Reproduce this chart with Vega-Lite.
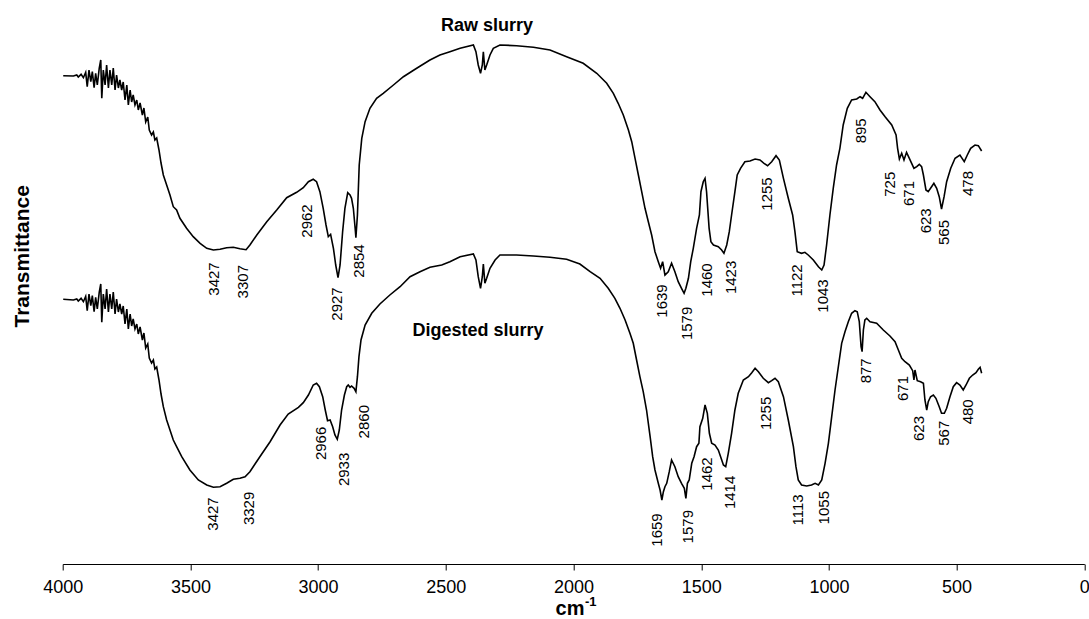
{
  "$schema": "https://vega.github.io/schema/vega-lite/v6.json",
  "width": 1021.6,
  "height": 544,
  "autosize": {"type": "none"},
  "padding": {"left": 62.7, "top": 20, "right": 4.7, "bottom": 55},
  "background": "white",
  "config": {"font": "Liberation Sans", "view": {"stroke": null}},
  "datasets": {
    "spectra": [
      {"s":"raw","wn":3998,"t":488.3},{"s":"raw","wn":3958,"t":488},{"s":"raw","wn":3945,"t":489},{"s":"raw","wn":3939,"t":487},{"s":"raw","wn":3928,"t":489.7},{"s":"raw","wn":3919,"t":486.3},{"s":"raw","wn":3910,"t":491.7},{"s":"raw","wn":3904,"t":477.3},{"s":"raw","wn":3897,"t":494},{"s":"raw","wn":3890,"t":482.3},{"s":"raw","wn":3884,"t":492.3},{"s":"raw","wn":3877,"t":476.3},{"s":"raw","wn":3871,"t":490.7},{"s":"raw","wn":3864.5,"t":479},{"s":"raw","wn":3857,"t":495.7},{"s":"raw","wn":3851,"t":504},{"s":"raw","wn":3847,"t":465.7},{"s":"raw","wn":3841,"t":494},{"s":"raw","wn":3834,"t":479},{"s":"raw","wn":3828,"t":499},{"s":"raw","wn":3821,"t":476},{"s":"raw","wn":3815,"t":494},{"s":"raw","wn":3808,"t":479},{"s":"raw","wn":3802,"t":496},{"s":"raw","wn":3795,"t":474},{"s":"raw","wn":3789,"t":489},{"s":"raw","wn":3782,"t":476},{"s":"raw","wn":3776,"t":484},{"s":"raw","wn":3769,"t":474},{"s":"raw","wn":3763,"t":482},{"s":"raw","wn":3756,"t":464},{"s":"raw","wn":3749,"t":479},{"s":"raw","wn":3743,"t":459},{"s":"raw","wn":3736,"t":474},{"s":"raw","wn":3730,"t":462},{"s":"raw","wn":3724,"t":469},{"s":"raw","wn":3717,"t":459},{"s":"raw","wn":3710,"t":464},{"s":"raw","wn":3704,"t":454},{"s":"raw","wn":3697,"t":461},{"s":"raw","wn":3688,"t":449},{"s":"raw","wn":3682,"t":456},{"s":"raw","wn":3675,"t":442},{"s":"raw","wn":3667,"t":447},{"s":"raw","wn":3661,"t":434},{"s":"raw","wn":3652,"t":429},{"s":"raw","wn":3645,"t":432},{"s":"raw","wn":3639,"t":424},{"s":"raw","wn":3632,"t":426},{"s":"raw","wn":3623,"t":414},{"s":"raw","wn":3615,"t":401},{"s":"raw","wn":3606,"t":389},{"s":"raw","wn":3593,"t":379},{"s":"raw","wn":3580,"t":369},{"s":"raw","wn":3567,"t":357.3},{"s":"raw","wn":3554,"t":354},{"s":"raw","wn":3541,"t":345.7},{"s":"raw","wn":3515,"t":335.7},{"s":"raw","wn":3489,"t":327.3},{"s":"raw","wn":3462,"t":320.7},{"s":"raw","wn":3436,"t":315.7},{"s":"raw","wn":3410,"t":314},{"s":"raw","wn":3384,"t":314.7},{"s":"raw","wn":3358,"t":316.3},{"s":"raw","wn":3332,"t":316.7},{"s":"raw","wn":3306,"t":315.3},{"s":"raw","wn":3282,"t":314.3},{"s":"raw","wn":3267,"t":319},{"s":"raw","wn":3240,"t":329},{"s":"raw","wn":3201,"t":342.3},{"s":"raw","wn":3162,"t":354},{"s":"raw","wn":3123,"t":366.3},{"s":"raw","wn":3084,"t":371.7},{"s":"raw","wn":3058,"t":376.3},{"s":"raw","wn":3038,"t":382.3},{"s":"raw","wn":3019,"t":384.7},{"s":"raw","wn":3006,"t":382.3},{"s":"raw","wn":2993,"t":372.3},{"s":"raw","wn":2980,"t":355.7},{"s":"raw","wn":2969,"t":339},{"s":"raw","wn":2960,"t":327.3},{"s":"raw","wn":2951,"t":329.7},{"s":"raw","wn":2940,"t":315.7},{"s":"raw","wn":2931,"t":299},{"s":"raw","wn":2922,"t":286.3},{"s":"raw","wn":2914,"t":299},{"s":"raw","wn":2904,"t":332.3},{"s":"raw","wn":2895,"t":355.7},{"s":"raw","wn":2884,"t":371.3},{"s":"raw","wn":2875,"t":369},{"s":"raw","wn":2869,"t":365.7},{"s":"raw","wn":2862,"t":355.7},{"s":"raw","wn":2855,"t":335.7},{"s":"raw","wn":2852,"t":326.3},{"s":"raw","wn":2846,"t":349},{"s":"raw","wn":2839,"t":399},{"s":"raw","wn":2829,"t":425.7},{"s":"raw","wn":2816,"t":442.3},{"s":"raw","wn":2797,"t":455.7},{"s":"raw","wn":2771,"t":465.7},{"s":"raw","wn":2745,"t":470.7},{"s":"raw","wn":2705,"t":479},{"s":"raw","wn":2666,"t":487.3},{"s":"raw","wn":2614,"t":495.7},{"s":"raw","wn":2562,"t":504},{"s":"raw","wn":2523,"t":509},{"s":"raw","wn":2484,"t":512.3},{"s":"raw","wn":2444,"t":515.7},{"s":"raw","wn":2392,"t":519},{"s":"raw","wn":2382,"t":512.3},{"s":"raw","wn":2373,"t":499},{"s":"raw","wn":2364,"t":490.7},{"s":"raw","wn":2357,"t":499},{"s":"raw","wn":2353,"t":512.3},{"s":"raw","wn":2347,"t":494},{"s":"raw","wn":2340,"t":499},{"s":"raw","wn":2327,"t":509},{"s":"raw","wn":2314,"t":515.7},{"s":"raw","wn":2288,"t":519},{"s":"raw","wn":2223,"t":518.3},{"s":"raw","wn":2157,"t":516.7},{"s":"raw","wn":2092,"t":514},{"s":"raw","wn":2027,"t":507.3},{"s":"raw","wn":1962,"t":500.7},{"s":"raw","wn":1909,"t":490.7},{"s":"raw","wn":1870,"t":480.7},{"s":"raw","wn":1844,"t":470.7},{"s":"raw","wn":1825,"t":460.7},{"s":"raw","wn":1805,"t":449},{"s":"raw","wn":1785,"t":434},{"s":"raw","wn":1772,"t":422.3},{"s":"raw","wn":1759,"t":405.7},{"s":"raw","wn":1746,"t":389},{"s":"raw","wn":1733,"t":372.3},{"s":"raw","wn":1720,"t":355.7},{"s":"raw","wn":1707,"t":342.3},{"s":"raw","wn":1694,"t":329},{"s":"raw","wn":1681,"t":312.3},{"s":"raw","wn":1668,"t":302.3},{"s":"raw","wn":1659,"t":295.7},{"s":"raw","wn":1651,"t":302.3},{"s":"raw","wn":1642,"t":289},{"s":"raw","wn":1629,"t":292.3},{"s":"raw","wn":1616,"t":300.7},{"s":"raw","wn":1603,"t":292.3},{"s":"raw","wn":1590,"t":282.3},{"s":"raw","wn":1577,"t":275.7},{"s":"raw","wn":1567,"t":270.7},{"s":"raw","wn":1560,"t":275.7},{"s":"raw","wn":1550,"t":285.7},{"s":"raw","wn":1541,"t":302.3},{"s":"raw","wn":1531,"t":315.7},{"s":"raw","wn":1518,"t":335.7},{"s":"raw","wn":1507,"t":349},{"s":"raw","wn":1501,"t":372.3},{"s":"raw","wn":1492,"t":382.3},{"s":"raw","wn":1485,"t":385.7},{"s":"raw","wn":1479,"t":372.3},{"s":"raw","wn":1469,"t":335.7},{"s":"raw","wn":1462,"t":322.3},{"s":"raw","wn":1452,"t":319},{"s":"raw","wn":1433,"t":317.3},{"s":"raw","wn":1420,"t":314},{"s":"raw","wn":1411,"t":310.7},{"s":"raw","wn":1400,"t":319},{"s":"raw","wn":1390,"t":332.3},{"s":"raw","wn":1381,"t":349},{"s":"raw","wn":1368,"t":372.3},{"s":"raw","wn":1359,"t":389},{"s":"raw","wn":1346,"t":395.7},{"s":"raw","wn":1329,"t":402.3},{"s":"raw","wn":1309,"t":403},{"s":"raw","wn":1289,"t":405},{"s":"raw","wn":1270,"t":404},{"s":"raw","wn":1254,"t":400.7},{"s":"raw","wn":1240,"t":398.3},{"s":"raw","wn":1224,"t":402.3},{"s":"raw","wn":1207,"t":408.3},{"s":"raw","wn":1194,"t":404},{"s":"raw","wn":1178,"t":385.7},{"s":"raw","wn":1159,"t":365.7},{"s":"raw","wn":1142,"t":349},{"s":"raw","wn":1133,"t":332.3},{"s":"raw","wn":1124,"t":312.3},{"s":"raw","wn":1107,"t":310.7},{"s":"raw","wn":1094,"t":311.7},{"s":"raw","wn":1081,"t":309},{"s":"raw","wn":1061,"t":304},{"s":"raw","wn":1041,"t":297.3},{"s":"raw","wn":1028,"t":294},{"s":"raw","wn":1019,"t":299},{"s":"raw","wn":1009,"t":319},{"s":"raw","wn":996,"t":349},{"s":"raw","wn":983,"t":375.7},{"s":"raw","wn":970,"t":399},{"s":"raw","wn":957,"t":415.7},{"s":"raw","wn":944,"t":439},{"s":"raw","wn":928,"t":455.7},{"s":"raw","wn":911,"t":464},{"s":"raw","wn":891,"t":465},{"s":"raw","wn":878,"t":467.3},{"s":"raw","wn":868,"t":465.7},{"s":"raw","wn":855,"t":471.7},{"s":"raw","wn":839,"t":467.3},{"s":"raw","wn":820,"t":462.3},{"s":"raw","wn":800,"t":454},{"s":"raw","wn":780,"t":447.3},{"s":"raw","wn":754,"t":439},{"s":"raw","wn":737,"t":429},{"s":"raw","wn":731,"t":415.7},{"s":"raw","wn":724,"t":405},{"s":"raw","wn":715,"t":410.7},{"s":"raw","wn":706,"t":404},{"s":"raw","wn":696,"t":411.7},{"s":"raw","wn":685,"t":405.7},{"s":"raw","wn":676,"t":400.7},{"s":"raw","wn":667,"t":395.7},{"s":"raw","wn":656,"t":397.3},{"s":"raw","wn":646,"t":399.7},{"s":"raw","wn":637,"t":397.3},{"s":"raw","wn":630,"t":389},{"s":"raw","wn":620,"t":374},{"s":"raw","wn":611,"t":372.3},{"s":"raw","wn":598,"t":377.3},{"s":"raw","wn":589,"t":380.7},{"s":"raw","wn":578,"t":375.7},{"s":"raw","wn":568,"t":367.3},{"s":"raw","wn":559,"t":355},{"s":"raw","wn":549,"t":367.3},{"s":"raw","wn":539,"t":382.3},{"s":"raw","wn":523,"t":395.7},{"s":"raw","wn":506,"t":405.7},{"s":"raw","wn":487,"t":409},{"s":"raw","wn":470,"t":402.3},{"s":"raw","wn":458,"t":409},{"s":"raw","wn":445,"t":415.7},{"s":"raw","wn":428,"t":419},{"s":"raw","wn":415,"t":418.3},{"s":"raw","wn":402,"t":413},
      {"s":"dig","wn":3998,"t":264.7},{"s":"dig","wn":3958,"t":264},{"s":"dig","wn":3945,"t":265},{"s":"dig","wn":3939,"t":263},{"s":"dig","wn":3928,"t":265.7},{"s":"dig","wn":3919,"t":262.3},{"s":"dig","wn":3910,"t":267.7},{"s":"dig","wn":3904,"t":253.3},{"s":"dig","wn":3897,"t":270},{"s":"dig","wn":3890,"t":258.3},{"s":"dig","wn":3884,"t":268.3},{"s":"dig","wn":3877,"t":252.3},{"s":"dig","wn":3871,"t":266.7},{"s":"dig","wn":3864.5,"t":255},{"s":"dig","wn":3857,"t":271.7},{"s":"dig","wn":3851,"t":280},{"s":"dig","wn":3847,"t":241.7},{"s":"dig","wn":3841,"t":270},{"s":"dig","wn":3834,"t":255},{"s":"dig","wn":3828,"t":275},{"s":"dig","wn":3821,"t":252},{"s":"dig","wn":3815,"t":270},{"s":"dig","wn":3808,"t":255},{"s":"dig","wn":3802,"t":272},{"s":"dig","wn":3795,"t":250},{"s":"dig","wn":3789,"t":265},{"s":"dig","wn":3782,"t":252},{"s":"dig","wn":3776,"t":260},{"s":"dig","wn":3769,"t":250},{"s":"dig","wn":3763,"t":258},{"s":"dig","wn":3756,"t":240},{"s":"dig","wn":3749,"t":255},{"s":"dig","wn":3743,"t":235},{"s":"dig","wn":3736,"t":250},{"s":"dig","wn":3730,"t":238},{"s":"dig","wn":3724,"t":245},{"s":"dig","wn":3717,"t":235},{"s":"dig","wn":3710,"t":240},{"s":"dig","wn":3704,"t":230},{"s":"dig","wn":3697,"t":237},{"s":"dig","wn":3688,"t":224},{"s":"dig","wn":3682,"t":231},{"s":"dig","wn":3675,"t":216},{"s":"dig","wn":3667,"t":220},{"s":"dig","wn":3661,"t":206},{"s":"dig","wn":3652,"t":201},{"s":"dig","wn":3645,"t":204},{"s":"dig","wn":3639,"t":195},{"s":"dig","wn":3632,"t":197},{"s":"dig","wn":3623,"t":184},{"s":"dig","wn":3615,"t":170},{"s":"dig","wn":3606,"t":157.3},{"s":"dig","wn":3593,"t":144},{"s":"dig","wn":3580,"t":134},{"s":"dig","wn":3567,"t":124},{"s":"dig","wn":3554,"t":117.3},{"s":"dig","wn":3534,"t":107.3},{"s":"dig","wn":3502,"t":94},{"s":"dig","wn":3469,"t":84},{"s":"dig","wn":3436,"t":79},{"s":"dig","wn":3410,"t":76.7},{"s":"dig","wn":3384,"t":77.3},{"s":"dig","wn":3358,"t":80.7},{"s":"dig","wn":3332,"t":84.7},{"s":"dig","wn":3306,"t":85.7},{"s":"dig","wn":3286,"t":87.3},{"s":"dig","wn":3267,"t":92.3},{"s":"dig","wn":3228,"t":107.3},{"s":"dig","wn":3188,"t":122.3},{"s":"dig","wn":3149,"t":139},{"s":"dig","wn":3117,"t":150},{"s":"dig","wn":3077,"t":156.7},{"s":"dig","wn":3058,"t":161.3},{"s":"dig","wn":3038,"t":169},{"s":"dig","wn":3019,"t":179},{"s":"dig","wn":3006,"t":180.7},{"s":"dig","wn":2995,"t":177.3},{"s":"dig","wn":2982,"t":167.3},{"s":"dig","wn":2972,"t":154},{"s":"dig","wn":2963,"t":143.3},{"s":"dig","wn":2953,"t":144},{"s":"dig","wn":2943,"t":137.3},{"s":"dig","wn":2934,"t":129},{"s":"dig","wn":2925,"t":124.7},{"s":"dig","wn":2917,"t":134},{"s":"dig","wn":2908,"t":154},{"s":"dig","wn":2897,"t":169},{"s":"dig","wn":2888,"t":177.3},{"s":"dig","wn":2882,"t":179},{"s":"dig","wn":2875,"t":176.7},{"s":"dig","wn":2869,"t":178},{"s":"dig","wn":2859,"t":175.7},{"s":"dig","wn":2852,"t":172.3},{"s":"dig","wn":2846,"t":187.3},{"s":"dig","wn":2840,"t":207.3},{"s":"dig","wn":2832,"t":224},{"s":"dig","wn":2816,"t":239},{"s":"dig","wn":2790,"t":250.7},{"s":"dig","wn":2758,"t":260},{"s":"dig","wn":2719,"t":269},{"s":"dig","wn":2679,"t":277.3},{"s":"dig","wn":2640,"t":287.3},{"s":"dig","wn":2601,"t":292.3},{"s":"dig","wn":2562,"t":296.7},{"s":"dig","wn":2516,"t":299},{"s":"dig","wn":2484,"t":302.3},{"s":"dig","wn":2444,"t":307.3},{"s":"dig","wn":2392,"t":310},{"s":"dig","wn":2382,"t":304},{"s":"dig","wn":2373,"t":287.3},{"s":"dig","wn":2364,"t":275.7},{"s":"dig","wn":2357,"t":287.3},{"s":"dig","wn":2353,"t":300},{"s":"dig","wn":2347,"t":280.7},{"s":"dig","wn":2340,"t":285.7},{"s":"dig","wn":2327,"t":295.7},{"s":"dig","wn":2307,"t":304},{"s":"dig","wn":2288,"t":309},{"s":"dig","wn":2223,"t":309},{"s":"dig","wn":2157,"t":308},{"s":"dig","wn":2092,"t":306.7},{"s":"dig","wn":2027,"t":304.7},{"s":"dig","wn":1975,"t":300},{"s":"dig","wn":1935,"t":292.3},{"s":"dig","wn":1896,"t":285.7},{"s":"dig","wn":1864,"t":275.7},{"s":"dig","wn":1838,"t":265.7},{"s":"dig","wn":1818,"t":255.7},{"s":"dig","wn":1798,"t":244},{"s":"dig","wn":1779,"t":230.7},{"s":"dig","wn":1766,"t":220.7},{"s":"dig","wn":1753,"t":204},{"s":"dig","wn":1740,"t":187.3},{"s":"dig","wn":1727,"t":172.3},{"s":"dig","wn":1714,"t":154},{"s":"dig","wn":1700,"t":127.3},{"s":"dig","wn":1690,"t":107.3},{"s":"dig","wn":1681,"t":94},{"s":"dig","wn":1668,"t":80.7},{"s":"dig","wn":1661,"t":74},{"s":"dig","wn":1654,"t":64},{"s":"dig","wn":1648,"t":72.3},{"s":"dig","wn":1642,"t":77.3},{"s":"dig","wn":1635,"t":80.7},{"s":"dig","wn":1625,"t":92.3},{"s":"dig","wn":1616,"t":104},{"s":"dig","wn":1603,"t":97.3},{"s":"dig","wn":1590,"t":87.3},{"s":"dig","wn":1577,"t":80.7},{"s":"dig","wn":1566,"t":75.7},{"s":"dig","wn":1560,"t":65.7},{"s":"dig","wn":1554,"t":80.7},{"s":"dig","wn":1547,"t":84},{"s":"dig","wn":1537,"t":100.7},{"s":"dig","wn":1528,"t":107.3},{"s":"dig","wn":1518,"t":117.3},{"s":"dig","wn":1509,"t":120.7},{"s":"dig","wn":1505,"t":137.3},{"s":"dig","wn":1494,"t":145.7},{"s":"dig","wn":1485,"t":159},{"s":"dig","wn":1476,"t":150.7},{"s":"dig","wn":1468,"t":130.7},{"s":"dig","wn":1459,"t":120.7},{"s":"dig","wn":1446,"t":119},{"s":"dig","wn":1433,"t":114},{"s":"dig","wn":1424,"t":107.3},{"s":"dig","wn":1413,"t":99},{"s":"dig","wn":1404,"t":97.3},{"s":"dig","wn":1394,"t":110.7},{"s":"dig","wn":1381,"t":130.7},{"s":"dig","wn":1368,"t":154},{"s":"dig","wn":1355,"t":170.7},{"s":"dig","wn":1335,"t":184},{"s":"dig","wn":1315,"t":187.3},{"s":"dig","wn":1302,"t":191.3},{"s":"dig","wn":1289,"t":195.7},{"s":"dig","wn":1276,"t":192.3},{"s":"dig","wn":1257,"t":185.7},{"s":"dig","wn":1237,"t":181.3},{"s":"dig","wn":1224,"t":183.3},{"s":"dig","wn":1211,"t":185.7},{"s":"dig","wn":1198,"t":182.3},{"s":"dig","wn":1178,"t":167.3},{"s":"dig","wn":1159,"t":144},{"s":"dig","wn":1139,"t":117.3},{"s":"dig","wn":1129,"t":97.3},{"s":"dig","wn":1120,"t":84},{"s":"dig","wn":1107,"t":79},{"s":"dig","wn":1087,"t":78},{"s":"dig","wn":1068,"t":79},{"s":"dig","wn":1054,"t":80.7},{"s":"dig","wn":1041,"t":79},{"s":"dig","wn":1028,"t":84},{"s":"dig","wn":1015,"t":100.7},{"s":"dig","wn":1002,"t":120.7},{"s":"dig","wn":989,"t":147.3},{"s":"dig","wn":976,"t":174},{"s":"dig","wn":963,"t":197.3},{"s":"dig","wn":950,"t":220.7},{"s":"dig","wn":937,"t":232.3},{"s":"dig","wn":924,"t":242.3},{"s":"dig","wn":911,"t":250.7},{"s":"dig","wn":898,"t":253.3},{"s":"dig","wn":889,"t":252.3},{"s":"dig","wn":881,"t":242.3},{"s":"dig","wn":874,"t":217.3},{"s":"dig","wn":870,"t":212.3},{"s":"dig","wn":865,"t":234},{"s":"dig","wn":859,"t":244},{"s":"dig","wn":852,"t":245.7},{"s":"dig","wn":839,"t":242.3},{"s":"dig","wn":813,"t":240.7},{"s":"dig","wn":787,"t":234},{"s":"dig","wn":761,"t":228},{"s":"dig","wn":741,"t":222.3},{"s":"dig","wn":728,"t":214},{"s":"dig","wn":715,"t":205.7},{"s":"dig","wn":702,"t":202.3},{"s":"dig","wn":685,"t":199},{"s":"dig","wn":672,"t":193.3},{"s":"dig","wn":667,"t":184},{"s":"dig","wn":663,"t":194},{"s":"dig","wn":654,"t":183.3},{"s":"dig","wn":641,"t":182.3},{"s":"dig","wn":630,"t":180.7},{"s":"dig","wn":624,"t":164},{"s":"dig","wn":617,"t":154},{"s":"dig","wn":611,"t":162.3},{"s":"dig","wn":602,"t":167.3},{"s":"dig","wn":591,"t":169},{"s":"dig","wn":581,"t":165.7},{"s":"dig","wn":568,"t":157.3},{"s":"dig","wn":559,"t":150.7},{"s":"dig","wn":548,"t":150.7},{"s":"dig","wn":539,"t":155.7},{"s":"dig","wn":526,"t":167.3},{"s":"dig","wn":513,"t":177.3},{"s":"dig","wn":500,"t":181.3},{"s":"dig","wn":487,"t":179},{"s":"dig","wn":474,"t":174},{"s":"dig","wn":463,"t":179},{"s":"dig","wn":450,"t":185.7},{"s":"dig","wn":437,"t":189},{"s":"dig","wn":424,"t":191.3},{"s":"dig","wn":415,"t":194.7},{"s":"dig","wn":408,"t":196.7},{"s":"dig","wn":402,"t":190.7}
    ],
    "peaks": [
      {"label":"3427","wn":3408,"t":301.7},{"label":"3307","wn":3293,"t":299},{"label":"2962","wn":3045,"t":359.7},{"label":"2927","wn":2925,"t":276.7},{"label":"2854","wn":2839,"t":319.7},
      {"label":"1639","wn":1655,"t":279.7},{"label":"1579","wn":1557,"t":257.3},{"label":"1460","wn":1476,"t":300.7},{"label":"1423","wn":1385,"t":303.3},{"label":"1255","wn":1243,"t":386.7},{"label":"1122","wn":1126,"t":299.7},{"label":"1043","wn":1024,"t":284.7},{"label":"895","wn":874,"t":445.7},{"label":"725","wn":761,"t":392.3},{"label":"671","wn":685,"t":383},{"label":"623","wn":620,"t":355.7},{"label":"565","wn":548,"t":344},{"label":"478","wn":454,"t":393},
      {"label":"3427","wn":3410,"t":66.7},{"label":"3329","wn":3269,"t":72.3},{"label":"2966","wn":2990,"t":137.3},{"label":"2933","wn":2899,"t":111.3},{"label":"2860","wn":2820,"t":159},
      {"label":"1659","wn":1672,"t":50.7},{"label":"1579","wn":1553,"t":54},{"label":"1462","wn":1476,"t":106.7},{"label":"1414","wn":1387,"t":88.3},{"label":"1255","wn":1248,"t":167.3},{"label":"1113","wn":1120,"t":69.7},{"label":"1055","wn":1018,"t":73},{"label":"877","wn":856,"t":205.7},{"label":"671","wn":709,"t":188},{"label":"623","wn":646,"t":148},{"label":"567","wn":548,"t":143.3},{"label":"480","wn":454,"t":164.7}
    ],
    "names": [
      {"label":"Raw slurry","wn":2339,"t":533},
      {"label":"Digested slurry","wn":2374,"t":228}
    ],
    "unit": [
      {"label":"-1","wn":1955,"t":-41.5}
    ]
  },
  "layer": [
    {
      "data": {"name": "spectra"},
      "mark": {"type": "line", "color": "black", "strokeWidth": 1.6},
      "encoding": {
        "x": {
          "field": "wn", "type": "quantitative",
          "scale": {"domain": [0, 4000], "reverse": true, "nice": false},
          "axis": {
            "values": [0, 500, 1000, 1500, 2000, 2500, 3000, 3500, 4000],
            "format": "d", "grid": false,
            "domainColor": "black", "tickColor": "black", "tickSize": 6,
            "labelFontSize": 18, "labelColor": "black", "labelPadding": 8,
            "labelFlush": false, "labelOverlap": false,
            "title": "cm", "titleFontSize": 20, "titleFontWeight": "bold",
            "titleColor": "black", "titleAlign": "center", "titleBaseline": "alphabetic",
            "titleX": 506.8, "titleY": 50.5
          }
        },
        "y": {
          "field": "t", "type": "quantitative",
          "scale": {"domain": [0, 544], "nice": false, "zero": false},
          "axis": {
            "domain": false, "ticks": false, "labels": false, "grid": false,
            "title": "Transmittance", "titleFontSize": 21, "titleFontWeight": "bold",
            "titleColor": "black", "titleAngle": 270, "titleAlign": "center",
            "titleBaseline": "alphabetic", "titleX": -34.4, "titleY": 235.8
          }
        },
        "detail": {"field": "s"}
      }
    },
    {
      "data": {"name": "peaks"},
      "mark": {"type": "text", "angle": 270, "align": "right", "baseline": "middle", "fontSize": 15, "color": "black"},
      "encoding": {
        "x": {"field": "wn", "type": "quantitative"},
        "y": {"field": "t", "type": "quantitative"},
        "text": {"field": "label", "type": "nominal"}
      }
    },
    {
      "data": {"name": "names"},
      "mark": {"type": "text", "align": "center", "baseline": "alphabetic", "fontSize": 18, "fontWeight": "bold", "color": "black"},
      "encoding": {
        "x": {"field": "wn", "type": "quantitative"},
        "y": {"field": "t", "type": "quantitative"},
        "text": {"field": "label", "type": "nominal"}
      }
    },
    {
      "data": {"name": "unit"},
      "mark": {"type": "text", "align": "left", "baseline": "alphabetic", "fontSize": 13, "fontWeight": "bold", "color": "black"},
      "encoding": {
        "x": {"field": "wn", "type": "quantitative"},
        "y": {"field": "t", "type": "quantitative"},
        "text": {"field": "label", "type": "nominal"}
      }
    }
  ]
}
